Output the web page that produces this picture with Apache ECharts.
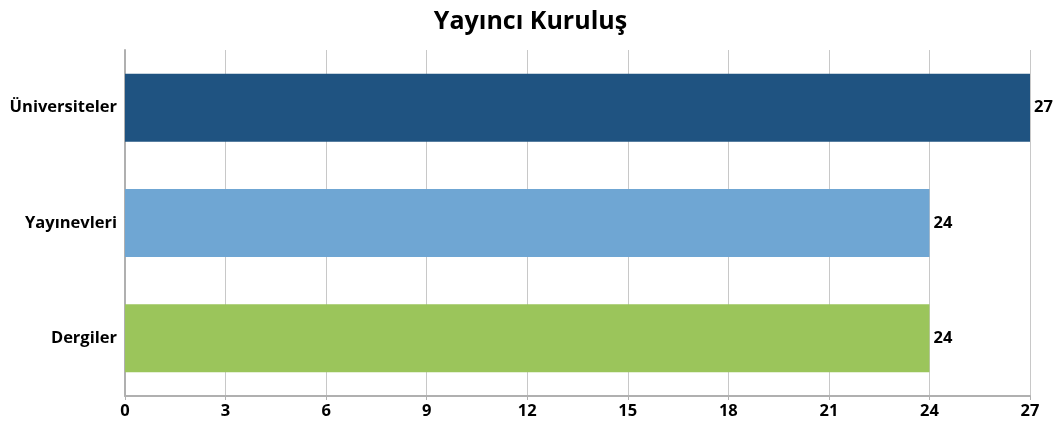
<!DOCTYPE html>
<html>
<head>
<meta charset="utf-8">
<script src="https://cdn.jsdelivr.net/npm/echarts@6/dist/echarts.min.js"></script>
<style>
  html, body { margin: 0; padding: 0; background: #fff; }
  #chart { width: 1061px; height: 429px; }
</style>
</head>
<body>
<div id="chart"></div>
<script>
var categories = ['Üniversiteler', 'Yayınevleri', 'Dergiler']
var counts = [27, 24, 24]
var barColors = ['#1f5381', '#6fa6d3', '#9bc55b']
var xTicks = { min: 0, max: 27, interval: 3 }

var font = '"Open Sans", "Noto Sans", sans-serif'
var chart = echarts.init(document.getElementById('chart'))

var option = {
  animation: false,
  title: {
    text: 'Yayıncı Kuruluş',
    left: 'center',
    top: 4,
    textStyle: { fontFamily: font, fontSize: 25, fontWeight: 'bold', color: '#000' }
  },
  grid: { left: 125, right: 31, top: 50, bottom: 33 },
  xAxis: {
    type: 'value',
    min: xTicks.min,
    max: xTicks.max,
    interval: xTicks.interval,
    axisLine: { show: true, lineStyle: { color: '#b0b0b0', width: 2 } },
    axisTick: { show: true, length: 4, lineStyle: { color: '#b0b0b0' } },
    axisLabel: { fontFamily: font, fontSize: 16.5, fontWeight: 'bold', color: '#000', margin: 7 },
    splitLine: { show: true, lineStyle: { color: '#c8c8c8', width: 1 } }
  },
  yAxis: {
    type: 'category',
    inverse: true,
    data: categories,
    axisLine: { show: true, lineStyle: { color: '#b0b0b0', width: 2 } },
    axisTick: { show: false },
    axisLabel: { fontFamily: font, fontSize: 16.5, fontWeight: 'bold', color: '#000', margin: 8 }
  },
  series: [{
    type: 'bar',
    barCategoryGap: '41%',
    data: counts.map(function (v, i) {
      return { value: v, itemStyle: { color: barColors[i] } }
    }),
    label: {
      show: true,
      position: 'right',
      distance: 4,
      fontFamily: font,
      fontSize: 16.5,
      fontWeight: 'bold',
      color: '#000'
    }
  }]
}

chart.setOption(option)
</script>
</body>
</html>
